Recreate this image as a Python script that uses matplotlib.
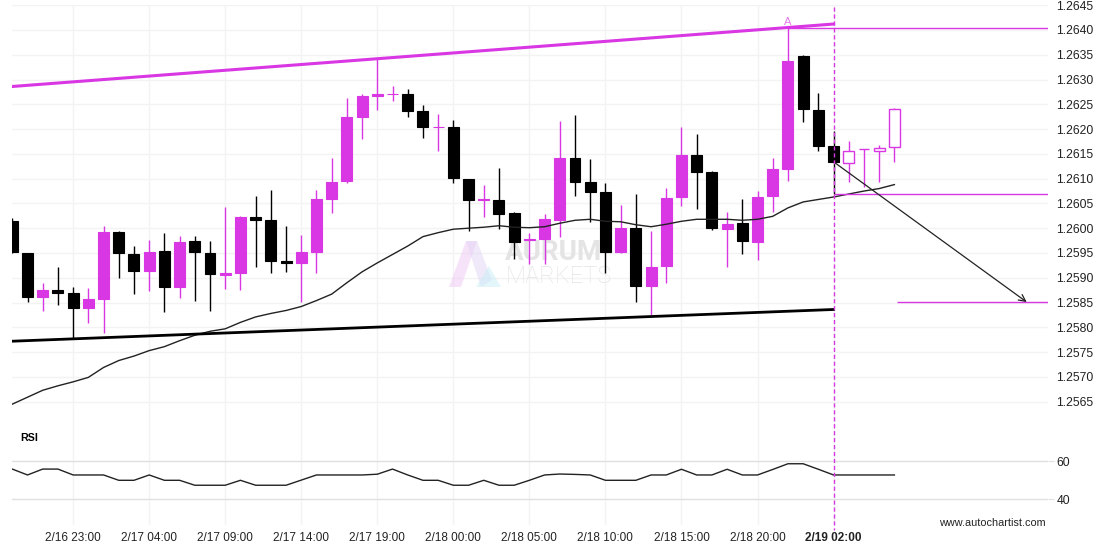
import numpy as np
import matplotlib.pyplot as plt
import matplotlib.transforms as mtransforms
from matplotlib.lines import Line2D
from matplotlib.patches import Polygon

plt.rcParams['font.family'] = ['Liberation Sans', 'DejaVu Sans']

# hourly candles, 2/16 19:00 .. 2/19 06:00
opens = [1.26015, 1.25949, 1.25862, 1.25875, 1.25869, 1.25840, 1.25857, 1.25992, 1.25948, 1.25914,
         1.25954, 1.25882, 1.25974, 1.25949, 1.25906, 1.25910, 1.26023, 1.26017, 1.25934, 1.25930,
         1.25953, 1.26059, 1.26095, 1.26225, 1.26267, 1.26270, 1.26271, 1.26237, 1.26204, 1.26204,
         1.26099, 1.26057, 1.26056, 1.26030, 1.25977, 1.25978, 1.26017, 1.26141, 1.26093, 1.26073,
         1.25953, 1.26000, 1.25884, 1.25924, 1.26062, 1.26148, 1.26113, 1.25999, 1.26010, 1.25973,
         1.26064, 1.26120, 1.26348, 1.26239, 1.26166, 1.26132, 1.26159, 1.26156, 1.26163]
highs = [1.26020, 1.25950, 1.25889, 1.25921, 1.25881, 1.25879, 1.26005, 1.25994, 1.25964, 1.25976,
         1.25990, 1.25984, 1.25984, 1.25974, 1.26042, 1.26025, 1.26066, 1.26077, 1.26005, 1.25986,
         1.26077, 1.26141, 1.26262, 1.26271, 1.26341, 1.26287, 1.26280, 1.26248, 1.26230, 1.26218,
         1.26100, 1.26087, 1.26121, 1.26033, 1.25990, 1.26028, 1.26216, 1.26228, 1.26139, 1.26092,
         1.26047, 1.26070, 1.25994, 1.26081, 1.26205, 1.26190, 1.26115, 1.26032, 1.26058, 1.26075,
         1.26141, 1.26403, 1.26350, 1.26272, 1.26196, 1.26175, 1.26160, 1.26168, 1.26243]
lows = [1.25950, 1.25851, 1.25833, 1.25845, 1.25778, 1.25809, 1.25788, 1.25899, 1.25867, 1.25873,
        1.25830, 1.25859, 1.25854, 1.25832, 1.25877, 1.25875, 1.25921, 1.25909, 1.25912, 1.25852,
        1.25909, 1.26030, 1.26091, 1.26181, 1.26239, 1.26257, 1.26225, 1.26183, 1.26156, 1.26092,
        1.25994, 1.26023, 1.25998, 1.25937, 1.25928, 1.25928, 1.25982, 1.26064, 1.26012, 1.25910,
        1.25949, 1.25852, 1.25823, 1.25889, 1.26045, 1.26038, 1.25996, 1.25922, 1.25947, 1.25936,
        1.26033, 1.26096, 1.26215, 1.26156, 1.26070, 1.26093, 1.26083, 1.26094, 1.26134]
closes = [1.25951, 1.25862, 1.25875, 1.25869, 1.25840, 1.25857, 1.25992, 1.25949, 1.25914, 1.25951,
          1.25882, 1.25972, 1.25951, 1.25907, 1.25909, 1.26023, 1.26017, 1.25934, 1.25930, 1.25952,
          1.26059, 1.26093, 1.26224, 1.26267, 1.26270, 1.26271, 1.26237, 1.26205, 1.26205, 1.26102,
          1.26056, 1.26058, 1.26029, 1.25973, 1.25978, 1.26019, 1.26141, 1.26094, 1.26074, 1.25953,
          1.26000, 1.25884, 1.25922, 1.26061, 1.26148, 1.26114, 1.26001, 1.26009, 1.25975, 1.26062,
          1.26119, 1.26337, 1.26240, 1.26165, 1.26134, 1.26156, 1.26159, 1.26161, 1.26240]
ma = [1.25645, 1.25659, 1.25673, 1.25682, 1.25690, 1.25699, 1.25719, 1.25733, 1.25742, 1.25753,
      1.25761, 1.25773, 1.25784, 1.25792, 1.25797, 1.25810, 1.25821, 1.25828, 1.25834, 1.25842,
      1.25854, 1.25867, 1.25890, 1.25912, 1.25930, 1.25947, 1.25964, 1.25983, 1.25991, 1.25998,
      1.26000, 1.26002, 1.26005, 1.26002, 1.26001, 1.26003, 1.26010, 1.26016, 1.26018, 1.26014,
      1.26013, 1.26007, 1.26003, 1.26008, 1.26014, 1.26018, 1.26018, 1.26018, 1.26016, 1.26018,
      1.26024, 1.26041, 1.26053, 1.26058, 1.26063, 1.26069, 1.26075, 1.26080, 1.26088]
rsi = [55.9, 52.8, 55.9, 55.9, 52.8, 52.8, 52.8, 50.0, 50.0, 52.8,
       50.0, 50.0, 47.4, 47.4, 47.4, 50.0, 47.4, 47.4, 47.4, 50.1,
       52.8, 52.8, 52.8, 52.8, 53.2, 55.9, 52.8, 50.0, 50.0, 47.4,
       47.4, 50.0, 47.4, 47.4, 50.0, 52.8, 53.3, 53.1, 52.8, 50.0,
       50.0, 50.0, 52.8, 52.8, 55.8, 52.8, 52.8, 55.8, 52.8, 52.8,
       55.7, 58.7, 58.7, 55.8, 52.8, 52.8, 52.8, 52.8, 52.8]

tick_idx = [4, 9, 14, 19, 24, 29, 34, 39, 44, 49, 54]
tick_labels = ['2/16 23:00', '2/17 04:00', '2/17 09:00', '2/17 14:00', '2/17 19:00',
               '2/18 00:00', '2/18 05:00', '2/18 10:00', '2/18 15:00', '2/18 20:00', '2/19 02:00']

pattern_end = 54                 # candle where the pattern was identified
upper_line = ([0, 54], [1.26286, 1.26412])
lower_line = ([0, 54], [1.25772, 1.25836])
resistance = 1.26403
support = 1.26070
target = 1.25851
target_start = 58.2
arrow_end = 66.7

MAG = '#d936e4'

W, H = 1110, 550
fig = plt.figure(figsize=(W / 100, H / 100), dpi=100)


def px_rect(l, t, r, b):
    return [l / W, 1 - b / H, (r - l) / W, (b - t) / H]


ax = fig.add_axes(px_rect(12, 5.2, 1048, 420))
rax = fig.add_axes(px_rect(12, 420, 1048, 525), sharex=ax)

x = np.arange(len(opens))
o = np.array(opens); c = np.array(closes); hi = np.array(highs); lo = np.array(lows)
up = c >= o
hollow = x > pattern_end

# candles
for i in x:
    col = MAG if (up[i] or hollow[i]) else 'black'
    ax.vlines(i, lo[i], hi[i], color=col, lw=1, zorder=3)
    face = 'white' if hollow[i] else col
    ax.bar(i, abs(c[i] - o[i]), bottom=min(o[i], c[i]), width=0.72,
           color=face, edgecolor=col, lw=0.8 if not hollow[i] else 1.0, zorder=4)

ax.plot(x, ma, color='#222222', lw=1, zorder=5)
ax.plot(*upper_line, color=MAG, lw=2.2, zorder=5)
ax.plot(*lower_line, color='black', lw=2, zorder=5)

xlim = (-0.02, 68.1)
ax.hlines(resistance, 51, xlim[1], color=MAG, lw=1, zorder=5)
ax.hlines(support, pattern_end, xlim[1], color=MAG, lw=1, zorder=5)
ax.hlines(target, target_start, xlim[1], color=MAG, lw=1, zorder=5)
ax.annotate('', xy=(arrow_end, target), xytext=(pattern_end, closes[pattern_end]),
            arrowprops=dict(arrowstyle='->', color='#222222', lw=0.9,
                            mutation_scale=12, shrinkA=0, shrinkB=0), zorder=6)
ax.annotate('A', (51, highs[51]), xytext=(0, 1), textcoords='offset points',
            ha='center', va='bottom', color='#e27aea', fontsize=8)

# watermark
ax.text(0.476, 0.405, 'AURUM', transform=ax.transAxes, fontsize=20, fontweight='bold',
        family='Roboto', color='#e4e4e4', va='center', ha='left', zorder=1)
ax.text(0.477, 0.347, 'MARKETS', transform=ax.transAxes, fontsize=17, fontweight='light',
        family='Roboto', color='#e4e4e4', va='center', ha='left', zorder=1)


def frac(px, py):
    return ((px - 12) / 1036, (420 - py) / 414.8)


ax.add_patch(Polygon([frac(449, 287), frac(466, 241), frac(477, 241), frac(461, 287)],
                     closed=True, transform=ax.transAxes, color='#f0c8f4', alpha=0.5, lw=0, zorder=1))
ax.add_patch(Polygon([frac(466, 241), frac(477, 241), frac(492, 280), frac(481, 287)],
                     closed=True, transform=ax.transAxes, color='#e2d4f6', alpha=0.5, lw=0, zorder=1))
ax.add_patch(Polygon([frac(476, 287), frac(489, 266), frac(501, 287)],
                     closed=True, transform=ax.transAxes, color='#c8f0f8', alpha=0.5, lw=0, zorder=1))

ax.set_xlim(*xlim)
ax.set_ylim(1.25613, 1.2645)
ax.set_yticks(np.arange(1.2565, 1.26451, 0.0005))
ax.yaxis.set_major_formatter(plt.FormatStrFormatter('%.4f'))
ax.yaxis.tick_right()
ax.tick_params(axis='y', length=0, pad=6, labelsize=8.7, labelcolor='#222222')
ax.set_xticks(tick_idx)
ax.tick_params(axis='x', length=0, labelbottom=False)
ax.grid(True, color='#f3f3f3', lw=1, zorder=0)
ax.set_axisbelow(True)
for s in ax.spines.values():
    s.set_visible(False)

# RSI panel
rax.plot(x, rsi, color='#222222', lw=1, zorder=3)
rax.set_ylim(26.5, 81.7)
rax.set_yticks([40, 60])
rax.yaxis.tick_right()
rax.tick_params(axis='y', length=4, color='#e0e0e0', pad=2, labelsize=8.7, labelcolor='#222222')
rax.grid(True, axis='y', color='#e0e0e0', lw=1)
rax.grid(True, axis='x', color='#f3f3f3', lw=1)
rax.set_axisbelow(True)
rax.set_xticks(tick_idx)
rax.set_xticklabels(tick_labels)
rax.tick_params(axis='x', length=0, pad=5, labelsize=8.5, labelcolor='#222222')
rax.get_xticklabels()[-1].set_fontweight('bold')
for s in rax.spines.values():
    s.set_visible(False)
rax.text(0.0077, 0.83, 'RSI', transform=rax.transAxes, fontsize=7.7, fontweight='bold',
         va='center', ha='left', color='black')

# dashed marker through both panels
trans = mtransforms.blended_transform_factory(ax.transData, fig.transFigure)
fig.add_artist(Line2D([pattern_end, pattern_end], [1 - 7 / H, 1 - 530 / H], transform=trans,
                      color=MAG, lw=1, ls=(0, (3, 2))))

fig.text(1046 / W, 1 - 523 / H, 'www.autochartist.com', ha='right', va='center',
         fontsize=7.8, color='#222222')

fig.savefig('out.png', dpi=100)
